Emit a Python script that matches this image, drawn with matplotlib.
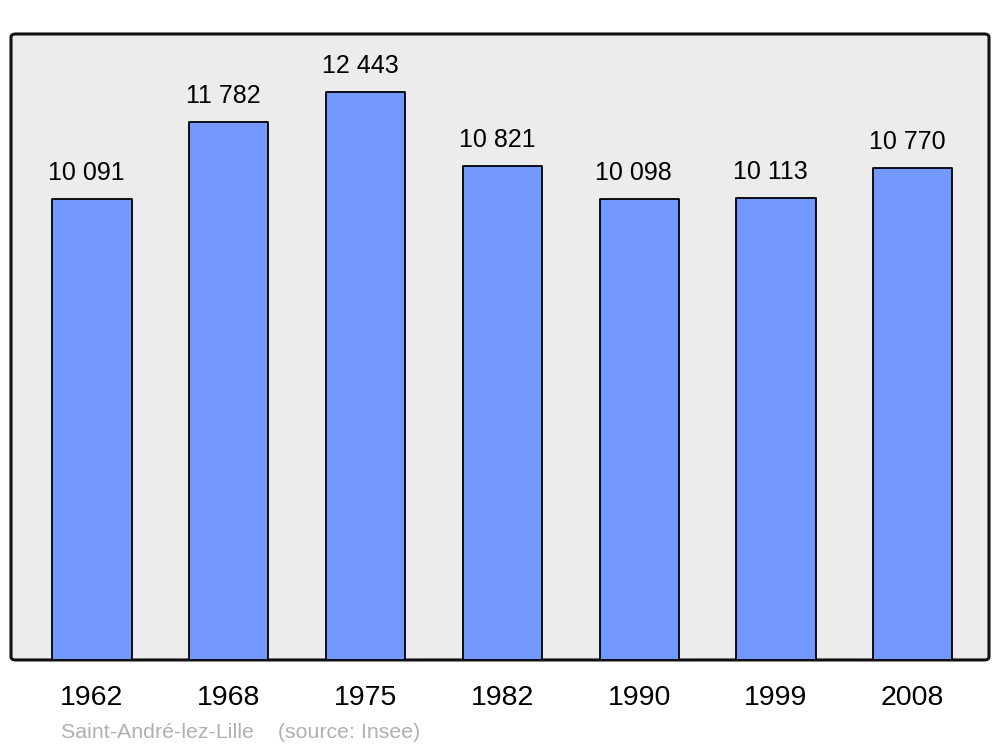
import matplotlib
matplotlib.use("Agg")
import matplotlib.pyplot as plt
from matplotlib.patches import FancyBboxPatch

years = ["1962", "1968", "1975", "1982", "1990", "1999", "2008"]
population = [10091, 11782, 12443, 10821, 10098, 10113, 10770]
labels = ["10 091", "11 782", "12 443", "10 821", "10 098", "10 113", "10 770"]

plt.rcParams['font.family'] = ['Liberation Sans', 'DejaVu Sans']

fig = plt.figure(figsize=(10, 7.47), dpi=100)
ax = fig.add_axes([0.011, 0.1165, 0.978, 0.838])
ax.set_facecolor('none')

# grey rounded background frame
frame = FancyBboxPatch((0, 0), 1, 1, boxstyle="round,pad=0,rounding_size=0.005",
                       transform=ax.transAxes, facecolor='#ececec',
                       edgecolor='#111111', linewidth=2.2, zorder=0, clip_on=False)
ax.add_patch(frame)

x = list(range(len(years)))
bars = ax.bar(x, population, width=0.578, color='#7399ff', edgecolor='black',
              linewidth=1.3, zorder=2)
for b in bars:
    b.set_joinstyle('round')

for xi, v, lab in zip(x, population, labels):
    ax.annotate(lab, (xi, v), xytext=(-4, 10), textcoords='offset points',
                ha='center', va='bottom', fontsize=18, color='black')

ax.set_xlim(-0.592, 6.557)
ax.set_ylim(0, 13710)
for s in ax.spines.values():
    s.set_visible(False)
ax.set_yticks([])
ax.set_xticks(x)
ax.set_xticklabels(years, fontsize=20.5)
ax.tick_params(axis='x', length=0, pad=18)
for t in ax.get_xticklabels():
    t.set_x(t.get_position()[0])

fig.text(0.061, 0.020, "Saint-André-lez-Lille    (source: Insee)", fontsize=15.4,
         color='#b0b0b0', ha='left', va='center')

fig.savefig("out.png", dpi=100)
